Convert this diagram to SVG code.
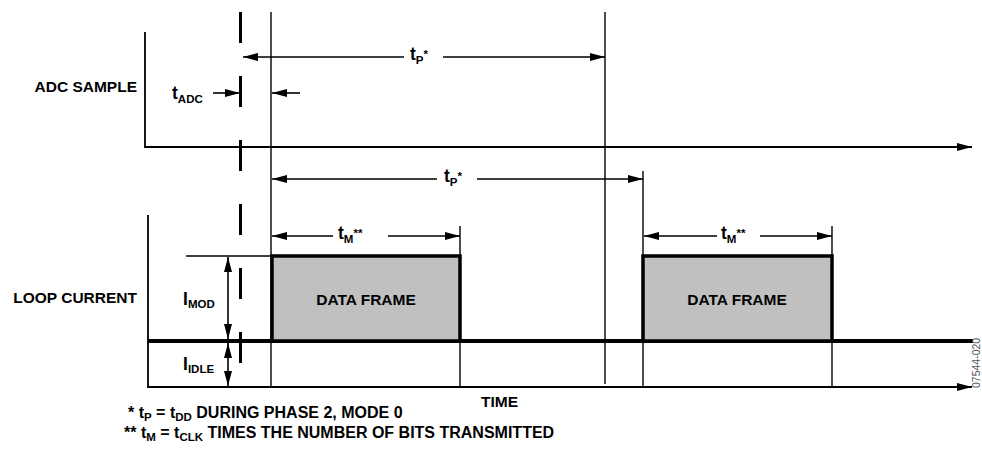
<svg xmlns="http://www.w3.org/2000/svg" width="982" height="449" viewBox="0 0 982 449">
<style>
.t{font-family:"Liberation Sans",Arial,sans-serif;font-weight:bold;fill:#000}
.lbl{font-size:15.5px}
.big{font-size:17.5px}
.fn{font-size:16px}
.sub{font-size:11.5px}
.ln{stroke:#000;stroke-width:1.4;fill:none}
.ax{stroke:#000;stroke-width:1.8;fill:none}
.arr{stroke:#000;stroke-width:1.6;fill:none}
.frame{fill:#c0c0c0;stroke:#000;stroke-width:3.5}
</style>
<defs>
<marker id="ah" viewBox="0 0 15 8" refX="15" refY="4" markerWidth="15" markerHeight="8" orient="auto-start-reverse" markerUnits="userSpaceOnUse">
<path d="M0,0 L15,4 L0,8 z" fill="#000"/>
</marker>
</defs>
<rect width="982" height="449" fill="#fff"/>

<g id="axes">
<path class="ax" d="M145,32 V147 H955"/>
<path class="ax" d="M145,147 H972" marker-end="url(#ah)"/>
<path class="ax" d="M148,215 V387 H972" marker-end="url(#ah)"/>
<line x1="148" y1="341" x2="973" y2="341" stroke="#000" stroke-width="4"/>
</g>

<g id="frames">
<g id="frame1">
<rect class="frame" x="272" y="256" width="188" height="85"/>
<text class="t lbl" x="366" y="305" text-anchor="middle">DATA FRAME</text>
</g>
<g id="frame2">
<rect class="frame" x="643" y="256" width="189" height="85"/>
<text class="t lbl" x="737" y="305" text-anchor="middle">DATA FRAME</text>
</g>
</g>

<g id="connectors">
<line x1="240.5" y1="12" x2="240.5" y2="364" stroke="#000" stroke-width="3" stroke-dasharray="31 33"/>
<line class="ln" x1="271" y1="12" x2="271" y2="387"/>
<line class="ln" x1="605" y1="12" x2="605" y2="384"/>
<line class="ln" x1="643" y1="171" x2="643" y2="387"/>
<line class="ln" x1="460" y1="226" x2="460" y2="387"/>
<line class="ln" x1="832" y1="226" x2="832" y2="387"/>
<line class="ln" x1="186" y1="256" x2="271" y2="256"/>

<line class="arr" x1="404" y1="57" x2="243" y2="57" marker-end="url(#ah)"/>
<line class="arr" x1="443" y1="57" x2="605" y2="57" marker-end="url(#ah)"/>
<line class="arr" x1="213" y1="93" x2="240" y2="93" marker-end="url(#ah)"/>
<line class="arr" x1="300" y1="93" x2="272" y2="93" marker-end="url(#ah)"/>
<line class="arr" x1="437" y1="179" x2="272" y2="179" marker-end="url(#ah)"/>
<line class="arr" x1="477" y1="179" x2="643" y2="179" marker-end="url(#ah)"/>
<line class="arr" x1="333" y1="236" x2="272" y2="236" marker-end="url(#ah)"/>
<line class="arr" x1="388" y1="236" x2="460" y2="236" marker-end="url(#ah)"/>
<line class="arr" x1="717" y1="236" x2="644" y2="236" marker-end="url(#ah)"/>
<line class="arr" x1="760" y1="236" x2="832" y2="236" marker-end="url(#ah)"/>
<line class="arr" x1="228" y1="257" x2="228" y2="339" marker-start="url(#ah)" marker-end="url(#ah)"/>
<line class="arr" x1="228" y1="343" x2="228" y2="386" marker-start="url(#ah)" marker-end="url(#ah)"/>
</g>

<g id="labels">
<text class="t lbl" x="137" y="92" text-anchor="end">ADC SAMPLE</text>
<text class="t lbl" x="137" y="303" text-anchor="end">LOOP CURRENT</text>
<text class="t big" x="172" y="99">t<tspan class="sub" dy="4">ADC</tspan></text>
<text class="t big" x="410" y="60">t<tspan class="sub" dy="4">P</tspan><tspan class="sub" dy="-6">*</tspan></text>
<text class="t big" x="444" y="182">t<tspan class="sub" dy="4">P</tspan><tspan class="sub" dy="-6">*</tspan></text>
<text class="t big" x="338" y="239">t<tspan class="sub" dy="4">M</tspan><tspan class="sub" dy="-6">**</tspan></text>
<text class="t big" x="721" y="239">t<tspan class="sub" dy="4">M</tspan><tspan class="sub" dy="-6">**</tspan></text>
<text class="t big" x="183" y="305">I<tspan class="sub" dy="3">MOD</tspan></text>
<text class="t big" x="183" y="370">I<tspan class="sub" dy="3">IDLE</tspan></text>
<text class="t lbl" x="481" y="407">TIME</text>
<text class="t fn" x="128" y="418">* t<tspan class="sub" dy="3">P</tspan><tspan dy="-3"> = t</tspan><tspan class="sub" dy="3">DD</tspan><tspan dy="-3"> DURING PHASE 2, MODE 0</tspan></text>
<text class="t fn" x="124" y="438">** t<tspan class="sub" dy="3">M</tspan><tspan dy="-3"> = t</tspan><tspan class="sub" dy="3">CLK</tspan><tspan dy="-3"> TIMES THE NUMBER OF BITS TRANSMITTED</tspan></text>
<text x="980" y="388" transform="rotate(-90 980 388)" font-family="Liberation Sans,Arial,sans-serif" font-size="10.5" fill="#555">07544-020</text>
</g>
</svg>
